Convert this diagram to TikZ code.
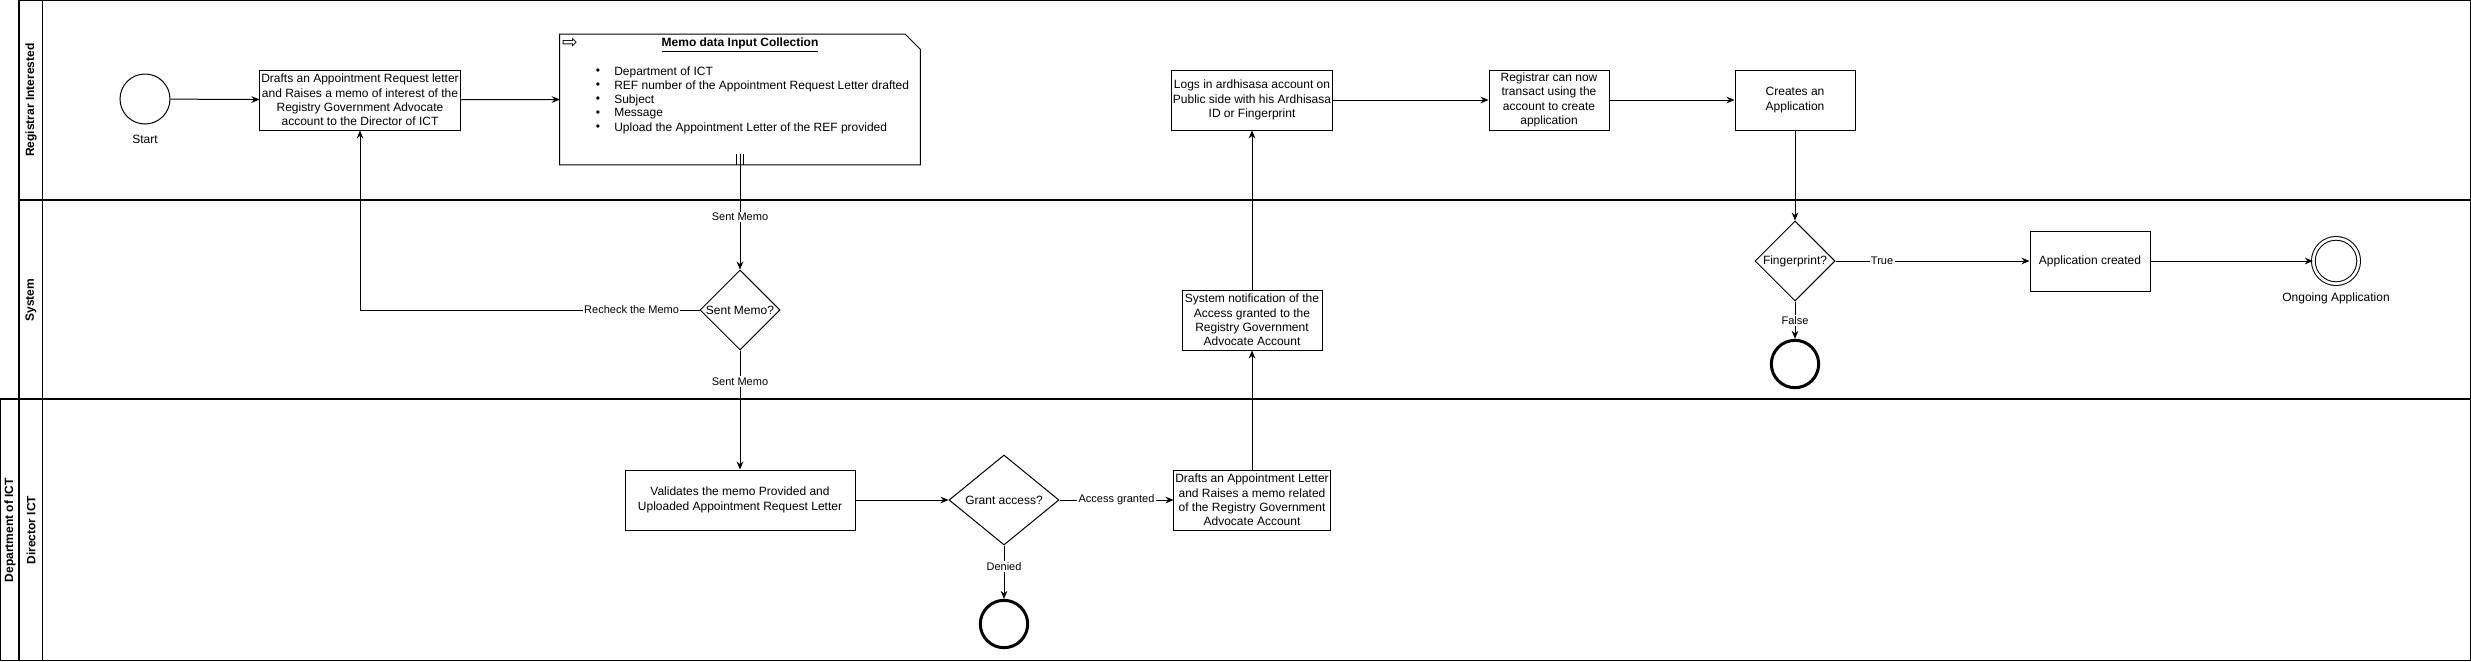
\documentclass[tikz,border=0pt]{standalone}
\usepackage{fontspec}
\setmainfont{Liberation Sans}
\newfontfamily\symfont{DejaVu Sans}
\usetikzlibrary{arrows.meta,positioning,shapes.geometric}
\newcommand{\boxfont}{\fontsize{9}{10.8}\selectfont}
\newcommand{\lblfont}{\fontsize{8.25}{9.9}\selectfont}
\tikzset{
  task/.style={rectangle,draw=black,fill=white,line width=0.75pt,
               minimum width=#1,minimum height=45pt,inner sep=1pt,
               align=center,font=\boxfont},
  task/.default=90pt,
  decision/.style={diamond,draw=black,fill=white,line width=0.75pt,
                   minimum width=60pt,minimum height=60pt,inner sep=0pt,
                   label={[font=\boxfont]center:#1}},
  arr/.style={-{Stealth[length=6pt,width=5pt]},line width=0.75pt},
  lbl/.style={fill=white,inner sep=1pt,font=\lblfont},
}

\begin{document}
\begin{tikzpicture}[
  x=0.75pt, y=-0.75pt,
  lane/.style={draw=black, line width=0.8pt},
  lanetxt/.style={rotate=90, font=\bfseries\boxfont},
  startev/.style={circle, draw=black, fill=white, line width=0.75pt,
                  minimum size=37.5pt, inner sep=0pt},
  endev/.style={circle, draw=black, fill=white, line width=2.25pt,
                minimum size=35.5pt, inner sep=0pt},
  doneev/.style={circle, draw=black, fill=white, line width=0.75pt,
                 double, double distance=2pt, minimum size=34pt, inner sep=0pt},
  evtxt/.style={font=\boxfont},
  memo/.style={rectangle, minimum width=270pt, minimum height=97.5pt, inner sep=0pt}
]
  \useasboundingbox (0,0) rectangle (2471,661);

  % Pools and lanes
  \draw[lane] (19,0.6) rectangle (2470.4,399);
  \draw[lane] (42.5,0.6) -- (42.5,399);
  \draw[lane] (19,200) -- (2470.4,200);
  \draw[lane] (0.6,399) rectangle (2470.4,660.4);
  \draw[lane] (19,399) -- (19,660.4);
  \draw[lane] (42.5,399) -- (42.5,660.4);

  \node[lanetxt] (lreg)  at (31,100)   {Registrar Interested};
  \node[lanetxt] (lsys)  at (31,300)   {System};
  \node[lanetxt] (ldir)  at (31,530)   {Director ICT};
  \node[lanetxt] (ldept) at (10,530)   {Department of ICT};

  % Registrar lane
  \node[startev] (start) at (145,99) {};
  \node[evtxt] (starttxt) at (145,139) {Start};
  \node[task=150pt] (draftreq) at (360,100)
    {Drafts an Appointment Request letter\\and Raises a memo of interest of the\\Registry Government Advocate\\account to the Director of ICT};

  \node[memo] (memo) at (740,99.5) {};
  \draw[line width=0.75pt, fill=white] (memo.south west) -- (memo.north west)
    -- ([xshift=-11.25pt]memo.north east) -- ([yshift=-11.25pt]memo.north east)
    -- (memo.south east) -- cycle;
  \node[font=\symfont\fontsize{14}{14}\selectfont, inner sep=0pt] (memoicon) at (570,43.5) {⇨};
  \node[font=\bfseries\boxfont] (memotitle) at (740,45) {\underline{Memo data Input Collection}};
  \foreach \y/\item in {72/Department of ICT,
                        86/REF number of the Appointment Request Letter drafted,
                        100/Subject,
                        114/Message,
                        128/Upload the Appointment Letter of the REF provided} {
    \node[font=\boxfont, inner sep=0pt] at (598,\y) {\textbullet};
    \node[font=\boxfont, inner sep=0pt, anchor=west] at (614,\y) {\item};
  }
  \foreach \dx in {-2.6,0,2.6}
    \draw[line width=0.75pt] ([xshift=\dx pt]memo.south) -- ++(0,-11);

  \node[task=120pt] (login) at (1252,100)
    {Logs in ardhisasa account on\\Public side with his Ardhisasa\\ID or Fingerprint};
  \node[task=90pt] (transact) at (1549,100)
    {Registrar can now\\transact using the\\account to create\\application};
  \node[task=90pt] (create) at (1795,100) {Creates an\\Application};

  % System lane
  \node[decision=Sent Memo?] (sentq) at (740,310) {};
  \node[task=105pt] (notify) at (1252,320)
    {System notification of the\\Access granted to the\\Registry Government\\Advocate Account};
  \node[decision=Fingerprint?] (fingerq) at (1795,261) {};
  \node[task=90pt] (appdone) at (2090,261) {Application created};
  \node[doneev] (ongoing) at (2336,261) {};
  \node[evtxt] (ongoingtxt) at (2336,298) {Ongoing Application};
  \node[endev] (falseend) at (1795,364) {};

  % Director lane
  \node[task=172.5pt] (validate) at (740,500)
    {Validates the memo Provided and\\Uploaded Appointment Request Letter};
  \node[decision=Grant access?, minimum width=82.5pt, minimum height=67.5pt] (grantq) at (1004,500) {};
  \node[task=116.25pt] (draftlet) at (1252,500)
    {Drafts an Appointment Letter\\and Raises a memo related\\of the Registry Government\\Advocate Account};
  \node[endev] (deniedend) at (1004,624) {};

  % Connectors
  \draw[arr] (start) -- (draftreq);
  \draw[arr] (draftreq) -- (memo.west);
  \draw[arr] (memo.south) -- node[lbl, midway] {Sent Memo} (sentq.north);
  \draw[arr] (sentq.west) -| node[lbl, pos=0.1] {Recheck the Memo} (draftreq.south);
  \draw[arr] (sentq.south) -- node[lbl, pos=0.26] {Sent Memo} (validate.north);
  \draw[arr] (validate) -- (grantq);
  \draw[arr] (grantq.east) -- node[lbl, midway] {Access granted} (draftlet.west);
  \draw[arr] (grantq.south) -- node[lbl, pos=0.4] {Denied} (deniedend.north);
  \draw[arr] (draftlet.north) -- (notify.south);
  \draw[arr] (notify.north) -- (login.south);
  \draw[arr] (login) -- (transact);
  \draw[arr] (transact) -- (create);
  \draw[arr] (create.south) -- (fingerq.north);
  \draw[arr] (fingerq.east) -- node[lbl, pos=0.24] {True} (appdone.west);
  \draw[arr] (fingerq.south) -- node[lbl, midway] {False} (falseend.north);
  \draw[arr] (appdone) -- (ongoing);

\end{tikzpicture}
\end{document}
